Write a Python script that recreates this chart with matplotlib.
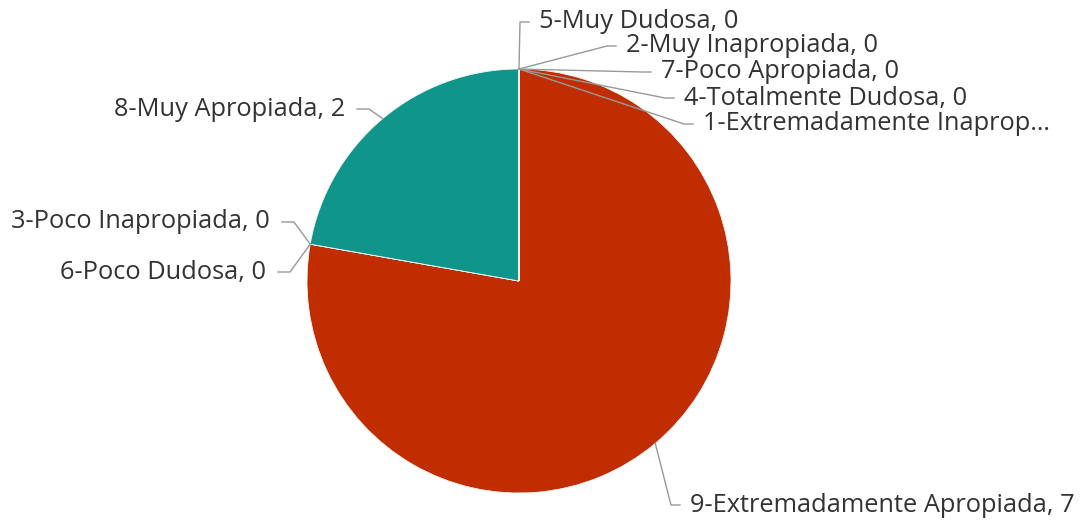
import numpy as np
import matplotlib.pyplot as plt

W, H = 1081, 525

# datos del gráfico (orden en sentido horario desde arriba)
categories = ["9-Extremadamente Apropiada", "6-Poco Dudosa", "3-Poco Inapropiada",
              "8-Muy Apropiada", "5-Muy Dudosa", "2-Muy Inapropiada",
              "7-Poco Apropiada", "4-Totalmente Dudosa", "1-Extremadamente Inapropiada"]
values = [7, 0, 0, 2, 0, 0, 0, 0, 0]
colors = ["#C02D00", "#C02D00", "#C02D00", "#10958A", "#10958A",
          "#10958A", "#10958A", "#10958A", "#10958A"]
# etiqueta cortada en el original
truncated = {"1-Extremadamente Inapropiada": "1-Extremadamente Inaprop…"}

# posiciones de las etiquetas (px, y hacia abajo) y alineación
label_pos = [(690, 505), (266, 272), (270, 222), (345, 109), (539, 22),
             (626, 46), (661, 72), (684, 98), (703, 124)]
label_ha = ["left", "right", "right", "right", "left", "left", "left", "left", "left"]

cx, cy, r = 519, H - 281, 212

plt.rcParams['font.family'] = ['Open Sans', 'DejaVu Sans']
fig = plt.figure(figsize=(W / 100, H / 100), dpi=100)
ax = fig.add_axes([0, 0, 1, 1])
wedges, _ = ax.pie(values, colors=colors, center=(cx, cy), radius=r,
                   startangle=90, counterclock=False,
                   wedgeprops=dict(linewidth=0.6, edgecolor="#f4f4f4"))
ax.set_xlim(0, W)
ax.set_ylim(0, H)
ax.set_aspect('equal')
ax.axis('off')

for w, name, v, (lx, ly), ha in zip(wedges, categories, values, label_pos, label_ha):
    ang = np.radians((w.theta1 + w.theta2) / 2)
    px, py = cx + r * np.cos(ang), cy + r * np.sin(ang)
    ly = H - ly
    text = truncated.get(name, f"{name}, {v}")
    if ha == "left":
        elbow, end = lx - 19, lx - 10
    else:
        elbow, end = lx + 24, lx + 12
    ax.plot([px, elbow, end], [py, ly, ly], color="#999999", lw=1, zorder=1)
    ax.text(lx, ly, text, ha=ha, va="center", fontsize=18.3, color="#333333")

fig.savefig("out.png", dpi=100)
